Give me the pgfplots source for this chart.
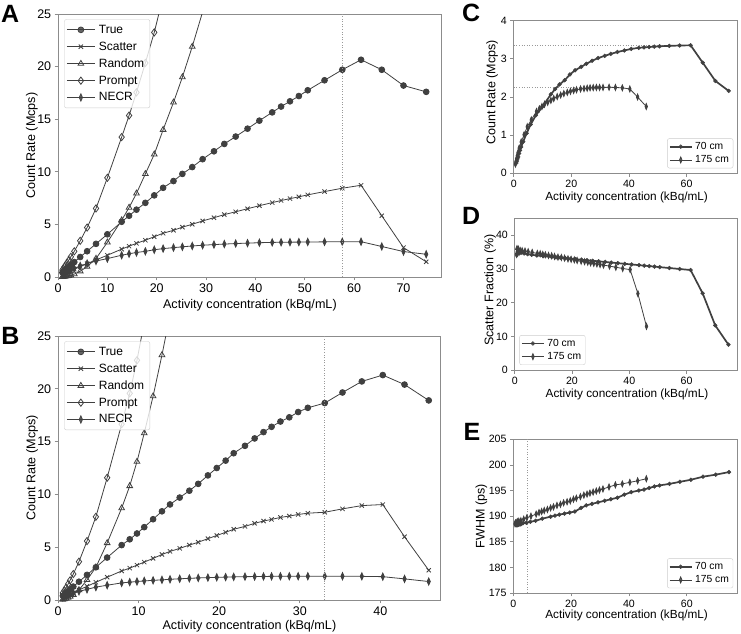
\documentclass[border=0pt]{standalone}
\usepackage{pgfplots}
\usepackage{pgfplotstable}
\pgfplotsset{compat=1.18}
\usepackage{fontspec}
\setmainfont{Liberation Sans}
\definecolor{dk}{HTML}{404040}
\definecolor{fr}{HTML}{8C8C8C}
\definecolor{dt}{HTML}{999999}
\newcommand{\fbig}{\fontsize{12.6}{15}\selectfont}
\newcommand{\ftick}{\fontsize{12.5}{14}\selectfont}
\newcommand{\fleg}{\fontsize{12}{14}\selectfont}
\newcommand{\fsl}{\fontsize{11.8}{14}\selectfont}
\newcommand{\fsly}{\fontsize{12.5}{14}\selectfont}
\newcommand{\fst}{\fontsize{10.6}{12}\selectfont}
\newcommand{\fsleg}{\fontsize{10.3}{12}\selectfont}
\newcommand{\flet}{\fontsize{25}{25}\selectfont\bfseries}

\pgfplotstableread{
x T S N F W
0.9 0.42 0.22 0.27 35.8 188.3
1.1 0.50 0.26 0.32 35.2 188.4
1.3 0.60 0.32 0.38 35.6 188.2
1.55 0.70 0.37 0.43 34.9 188.4
1.85 0.84 0.44 0.52 35.3 188.3
2.2 0.98 0.51 0.60 34.8 188.5
2.6 1.15 0.60 0.69 35.0 188.4
3.3 1.42 0.74 0.83 34.6 188.6
4.5 1.90 0.99 1.05 34.4 188.7
5.9 2.45 1.27 1.28 34.2 188.9
7.7 3.15 1.62 1.52 34.0 189.1
10.0 4.06 2.07 1.75 33.8 189.5
12.9 5.25 2.65 2.07 33.57 189.9
14.4 5.82 2.93 2.21 33.45 190.1
15.9 6.40 3.20 2.33 33.33 190.3
17.7 7.05 3.50 2.44 33.18 190.5
19.5 7.76 3.83 2.59 33.04 190.7
21.3 8.48 4.16 2.70 32.9 190.9
23.4 9.12 4.44 2.79 32.73 191.6
25.2 9.80 4.74 2.87 32.58 192.1
27.2 10.45 5.01 2.95 32.42 192.4
29.3 11.20 5.33 3.02 32.26 192.7
31.6 11.95 5.64 3.08 32.07 193.0
33.7 12.65 5.93 3.13 31.9 193.3
36.0 13.35 6.20 3.18 31.72 193.6
38.4 14.10 6.49 3.22 31.53 194.2
40.8 14.86 6.78 3.26 31.34 194.7
43.4 15.65 7.07 3.29 31.13 195.0
45.2 16.20 7.27 3.30 30.98 195.2
47.0 16.70 7.45 3.31 30.84 195.5
48.8 17.20 7.62 3.32 30.7 195.8
50.6 17.75 7.81 3.33 30.55 196.0
54.0 18.70 8.12 3.34 30.28 196.3
57.6 19.70 8.44 3.35 29.99 196.7
61.4 20.65 8.72 3.355 29.69 197.1
65.6 19.70 5.82 2.90 22.8 197.7
70.0 18.20 2.79 2.42 13.3 198.1
74.6 17.60 1.45 2.16 7.6 198.6
}\tA

\pgfplotstableread{
x R P
0.9 0.02 0.66
1.1 0.03 0.79
1.3 0.04 0.96
1.55 0.06 1.13
1.85 0.08 1.36
2.2 0.12 1.61
2.6 0.17 1.92
3.3 0.28 2.44
4.5 0.55 3.44
5.9 0.98 4.70
7.7 1.75 6.52
10.0 3.3 9.43
12.9 5.4 13.3
14.4 6.6 15.35
15.9 7.95 17.55
17.7 9.8 20.35
19.5 11.66 23.25
21.3 14.0 26.64
23.4 16.6 nan
25.2 19.0 nan
27.2 21.9 nan
29.3 25.2 nan
31.6 28.6 nan
}\tAR

\pgfplotstableread{
x T S N F W
0.6 0.40 0.22 0.24 34.3 188.5
0.8 0.53 0.29 0.31 36.0 188.7
1.0 0.66 0.36 0.38 34.6 188.6
1.25 0.83 0.45 0.46 35.9 188.8
1.5 1.00 0.54 0.54 34.9 188.9
1.9 1.27 0.69 0.66 35.5 189.0
2.6 1.73 0.95 0.82 35.4 189.1
3.6 2.38 1.30 1.01 35.3 189.4
4.7 3.10 1.68 1.22 35.1 189.7
6.1 4.02 2.16 1.40 34.9 190.0
7.9 5.20 2.75 1.62 34.6 190.4
8.9 5.75 3.02 1.69 34.5 190.7
9.8 6.30 3.30 1.75 34.3 190.9
10.7 6.90 3.59 1.81 34.2 191.1
11.8 7.65 3.94 1.86 34.0 191.3
12.9 8.40 4.31 1.91 33.9 191.6
13.9 9.05 4.60 1.96 33.7 191.8
15.1 9.70 4.89 2.01 33.5 192.1
16.3 10.35 5.20 2.05 33.4 192.3
17.4 11.00 5.47 2.09 33.2 192.6
18.6 11.80 5.81 2.12 33.0 192.8
19.7 12.50 6.11 2.15 32.85 193.0
20.8 13.20 6.41 2.17 32.7 193.3
21.8 13.90 6.70 2.19 32.5 193.5
23.2 14.60 6.97 2.21 32.3 193.8
24.4 15.30 7.26 2.22 32.15 194.1
25.5 15.90 7.48 2.23 32.0 194.3
26.5 16.40 7.63 2.24 31.8 194.5
27.6 16.90 7.82 2.245 31.65 194.7
28.7 17.30 7.95 2.25 31.5 194.9
29.8 17.80 8.10 2.25 31.3 195.1
31.0 18.20 8.22 2.25 31.15 195.3
33.1 18.65 8.31 2.255 30.85 195.7
35.3 19.65 8.63 2.25 30.5 196.1
37.7 20.70 8.94 2.24 30.15 196.3
40.3 21.30 9.04 2.21 29.8 196.6
43.0 20.40 5.99 2.00 22.7 196.9
46.0 18.90 2.82 1.75 13.0 197.3
}\tB

\pgfplotstableread{
x R P
0.6 0.05 0.67
0.8 0.09 0.91
1.0 0.14 1.16
1.25 0.22 1.50
1.5 0.32 1.86
1.9 0.50 2.46
2.6 0.95 3.63
3.6 1.90 5.58
4.7 3.10 7.88
6.1 5.40 11.58
7.9 8.70 16.65
8.9 10.80 19.57
9.8 13.10 22.70
10.7 15.80 26.29
11.8 19.30 nan
12.9 23.20 nan
13.9 27.00 nan
}\tBR

\pgfplotsset{
  base/.style={scale only axis,
    axis line style={fr, line width=0.9pt},
    major tick style={fr, line width=0.8pt},
    tick align=outside, major tick length=3.3pt,
    xtick pos=bottom, ytick pos=left,
    /pgf/number format/assume math mode=true,
    clip mode=individual, legend cell align=left,
    xlabel={Activity concentration (kBq/mL)}},
  big/.style={base, tick label style={font=\ftick}, label style={font=\fbig},
    legend style={font=\fleg, at={(0.0164,0.98)}, anchor=north west,
      draw=black!20, rounded corners=2pt, fill=white, fill opacity=0.8,
      text opacity=1, draw opacity=1, inner xsep=2pt, inner ysep=2pt,
      nodes={inner xsep=3.6pt, inner ysep=3.5pt}},
    legend image code/.code={\draw[mark repeat=2,mark phase=2,##1] plot coordinates {(0pt,0pt) (14pt,0pt) (28pt,0pt)};}},
  small/.style={base, tick label style={font=\fst}, xlabel style={font=\fsl}, ylabel style={font=\fsly},
    xmin=0, xmax=77.6, xtick={0,20,40,60},
    legend style={font=\fsleg, draw=black!20, rounded corners=2pt, fill=white,
      fill opacity=0.8, text opacity=1, draw opacity=1, inner xsep=1.5pt, inner ysep=1.5pt,
      nodes={inner xsep=2.6pt, inner ysep=2.3pt}},
    legend image code/.code={\draw[mark repeat=2,mark phase=2,##1] plot coordinates {(0pt,0pt) (11pt,0pt) (22pt,0pt)};}},
  pT/.style={dk, line width=0.8pt, mark=*, mark size=2.9pt, mark options={solid, fill=dk}},
  pS/.style={dk, line width=0.8pt, mark=x, mark size=3pt, mark options={solid}},
  pR/.style={dk, line width=0.8pt, mark=triangle, mark size=3.3pt, mark options={solid, fill=white}},
  pP/.style={dk, line width=0.8pt, mark=diamond, mark size=3.6pt, mark options={solid, fill=white}},
  pN/.style={dk, line width=0.8pt, mark=diamond*, mark size=3.6pt, mark options={solid, fill=dk, xscale=0.6}},
  p70/.style={dk, line width=1.7pt, mark=*, mark size=1.9pt, mark options={solid, fill=dk, line width=0.5pt}},
  p175/.style={dk, line width=0.8pt, mark=diamond*, mark size=3pt, mark options={solid, fill=dk, xscale=0.55}},
  vline/.style={dt, line width=0.9pt, dash pattern=on 1pt off 1.6pt, forget plot},
}

\begin{document}
\begin{tikzpicture}
\useasboundingbox (0,0) rectangle (741pt,633pt);

% ---------- A ----------
\begin{axis}[big, at={(58pt,356pt)}, anchor=south west, width=383pt, height=263pt,
  xmin=0, xmax=77.6, ymin=0, ymax=25, xtick={0,10,...,70}, ytick={0,5,...,25},
  ylabel={Count Rate (Mcps)},
  xlabel style={at={(axis description cs:0.501,-0.12)}, anchor=base},
  ylabel style={at={(axis description cs:-0.068,0.5)}, anchor=center}]
\addplot[pT] table[x=x,y=T] {\tA}; \addlegendentry{True}
\addplot[pS] table[x=x,y=S] {\tA}; \addlegendentry{Scatter}
\addplot[pR] table[x=x,y=R] {\tAR}; \addlegendentry{Random}
\addplot[pP] table[x=x,y=P] {\tAR}; \addlegendentry{Prompt}
\addplot[pN] table[x=x,y=N] {\tA}; \addlegendentry{NECR}
\addplot[vline] coordinates {(57.6,0) (57.6,25)};
\node[anchor=base west, inner sep=0pt, font=\flet] at (rel axis cs:-0.149,0.966) {A};
\end{axis}

% ---------- B ----------
\begin{axis}[big, at={(58pt,33pt)}, anchor=south west, width=382pt, height=264pt,
  xmin=0, xmax=47.4, ymin=0, ymax=25, xtick={0,10,...,40}, ytick={0,5,...,25},
  ylabel={Count Rate (Mcps)},
  xlabel style={at={(axis description cs:0.501,-0.11)}, anchor=base},
  ylabel style={at={(axis description cs:-0.068,0.5)}, anchor=center}]
\addplot[pT] table[x=x,y=T] {\tB}; \addlegendentry{True}
\addplot[pS] table[x=x,y=S] {\tB}; \addlegendentry{Scatter}
\addplot[pR] table[x=x,y=R] {\tBR}; \addlegendentry{Random}
\addplot[pP] table[x=x,y=P] {\tBR}; \addlegendentry{Prompt}
\addplot[pN] table[x=x,y=N] {\tB}; \addlegendentry{NECR}
\addplot[vline] coordinates {(33.1,0) (33.1,25)};
\node[anchor=base west, inner sep=0pt, font=\flet] at (rel axis cs:-0.149,0.966) {B};
\end{axis}

% ---------- C ----------
\begin{axis}[small, at={(513.7pt,459.7pt)}, anchor=south west, width=223.6pt, height=152.6pt,
  ymin=0, ymax=4, ytick={0,1,2,3,4},
  ylabel={Count Rate (Mcps)},
  xlabel style={at={(axis description cs:0.505,-0.178)}, anchor=base},
  ylabel style={at={(axis description cs:-0.096,0.53)}, anchor=center},
  legend style={at={(0.982,0.033)}, anchor=south east}]
\addplot[vline] coordinates {(0,3.355) (61.4,3.355)};
\addplot[vline] coordinates {(0,2.255) (33.1,2.255)};
\addplot[p70] table[x=x,y=N] {\tA}; \addlegendentry{70 cm}
\addplot[p175] table[x=x,y=N] {\tB}; \addlegendentry{175 cm}
\node[anchor=base west, inner sep=0pt, font=\flet] at (rel axis cs:-0.232,0.995) {C};
\end{axis}

% ---------- D ----------
\begin{axis}[small, at={(514.7pt,262.7pt)}, anchor=south west, width=222.3pt, height=152pt,
  ymin=0, ymax=45, ytick={0,10,...,40},
  ylabel={Scatter Fraction (\%)},
  xlabel style={at={(axis description cs:0.505,-0.179)}, anchor=base},
  ylabel style={at={(axis description cs:-0.111,0.528)}, anchor=center},
  legend style={at={(0.021,0.035)}, anchor=south west}]
\addplot[p70] table[x=x,y=F] {\tA}; \addlegendentry{70 cm}
\addplot[p175] table[x=x,y=F] {\tB}; \addlegendentry{175 cm}
\node[anchor=base west, inner sep=0pt, font=\flet] at (rel axis cs:-0.237,0.956) {D};
\end{axis}

% ---------- E ----------
\begin{axis}[small, at={(513.3pt,40pt)}, anchor=south west, width=224.4pt, height=153.7pt,
  ymin=175, ymax=205, ytick={175,180,...,205},
  ylabel={FWHM (ps)},
  xlabel style={at={(axis description cs:0.505,-0.169)}, anchor=base},
  ylabel style={at={(axis description cs:-0.142,0.5)}, anchor=center},
  legend style={at={(0.98,0.031)}, anchor=south east}]
\addplot[vline] coordinates {(5.0,175) (5.0,205)};
\addplot[p70] table[x=x,y=W] {\tA}; \addlegendentry{70 cm}
\addplot[p175] table[x=x,y=W] {\tB}; \addlegendentry{175 cm}
\node[anchor=base west, inner sep=0pt, font=\flet] at (rel axis cs:-0.222,0.995) {E};
\end{axis}
\end{tikzpicture}
\end{document}
